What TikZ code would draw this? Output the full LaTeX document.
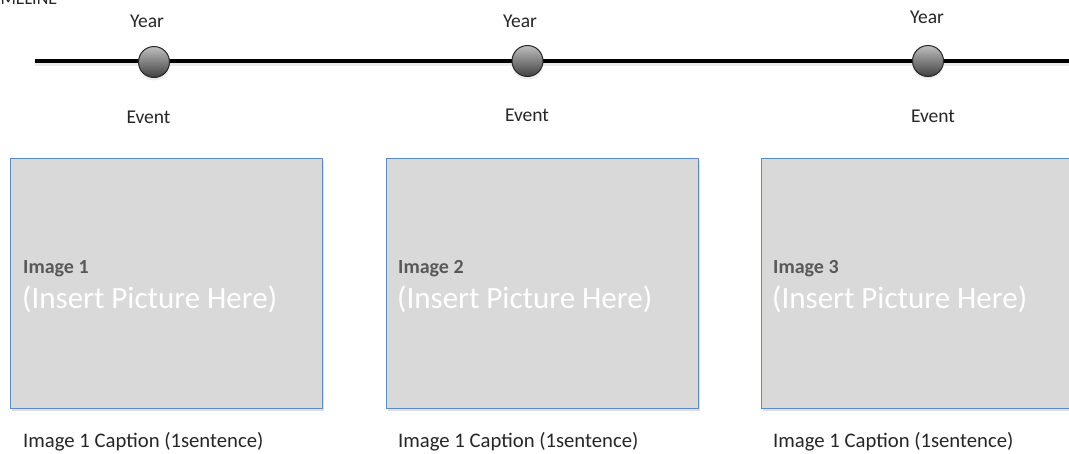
\documentclass[tikz,border=0pt]{standalone}
\usepackage{fontspec}
\setmainfont{Carlito}
\usetikzlibrary{shadows}
\definecolor{boxfill}{RGB}{217,217,217}
\definecolor{boxedge}{RGB}{91,137,201}
\definecolor{txtdark}{RGB}{38,38,38}
\definecolor{lblgray}{RGB}{89,89,89}
\tikzset{
  plain/.style={font=\fontsize{19.5}{22}\selectfont, text=txtdark, inner sep=0pt, anchor=base},
  captionlbl/.style={font=\fontsize{20.7}{24}\selectfont, text=txtdark, inner sep=0pt, anchor=base west},
  imglbl/.style={font=\bfseries\fontsize{20}{24}\selectfont, text=lblgray, inner sep=0pt, anchor=base west},
  inslbl/.style={font=\fontsize{31}{36}\selectfont, text=white, inner sep=0pt, anchor=base west},
  imgbox/.style={draw=boxedge, line width=1pt, fill=boxfill, anchor=north west, inner sep=0pt,
    minimum width=312pt, minimum height=250pt,
    drop shadow={opacity=0.25, shadow xshift=1pt, shadow yshift=-2pt}},
  ballnode/.style={circle, draw=black!85, line width=1pt, top color=black!25, bottom color=black!75,
    minimum size=31pt, inner sep=0pt,
    drop shadow={opacity=0.15, shadow xshift=0pt, shadow yshift=-3pt}},
  tline/.style={line width=4.5pt, black}
}
\begin{document}
\begin{tikzpicture}[x=1pt,y=-1pt]
\useasboundingbox (0,0) rectangle (1069,453);
\clip (0,0) rectangle (1069,453);
\fill[white] (0,0) rectangle (1069,453);
% title (cut off at top, as in the reference)
\node[font=\fontsize{18}{20}\selectfont, text=txtdark, inner sep=0pt, anchor=base west] (title) at (-13,4) {TIMELINE};
% timeline
\coordinate (tlstart) at (35,61);
\coordinate (tlend) at (1075,61);
\draw[black!8, line width=4pt] ([yshift=-3pt]tlstart) -- ([yshift=-3pt]tlend);
\draw[tline] (tlstart) -- (tlend);
\node[ballnode] (b1) at (154,62) {};
\node[ballnode] (b2) at (527.5,61) {};
\node[ballnode] (b3) at (928,61) {};
% year / event labels
\node[plain] (y1) at (147,27) {Year};
\node[plain] (y2) at (520,27) {Year};
\node[plain] (y3) at (927,23) {Year};
\node[plain] (e1) at (148.5,123) {Event};
\node[plain] (e2) at (527,121) {Event};
\node[plain] (e3) at (933,122) {Event};
% boxes
\node[imgbox] (box1) at (10,158) {};
\node[imgbox] (box2) at (386,158) {};
\node[imgbox] (box3) at (761,158) {};
\node[imglbl] (i1) at (23,273) {Image 1};
\node[imglbl] (i2) at (398,273) {Image 2};
\node[imglbl] (i3) at (773,273) {Image 3};
\node[inslbl] (p1) at (22,308) {(Insert Picture Here)};
\node[inslbl] (p2) at (397,308) {(Insert Picture Here)};
\node[inslbl] (p3) at (772,308) {(Insert Picture Here)};
% captions
\node[captionlbl] (c1) at (23,447) {Image 1 Caption (1sentence)};
\node[captionlbl] (c2) at (398,447) {Image 1 Caption (1sentence)};
\node[captionlbl] (c3) at (773,447) {Image 1 Caption (1sentence)};
\end{tikzpicture}
\end{document}
